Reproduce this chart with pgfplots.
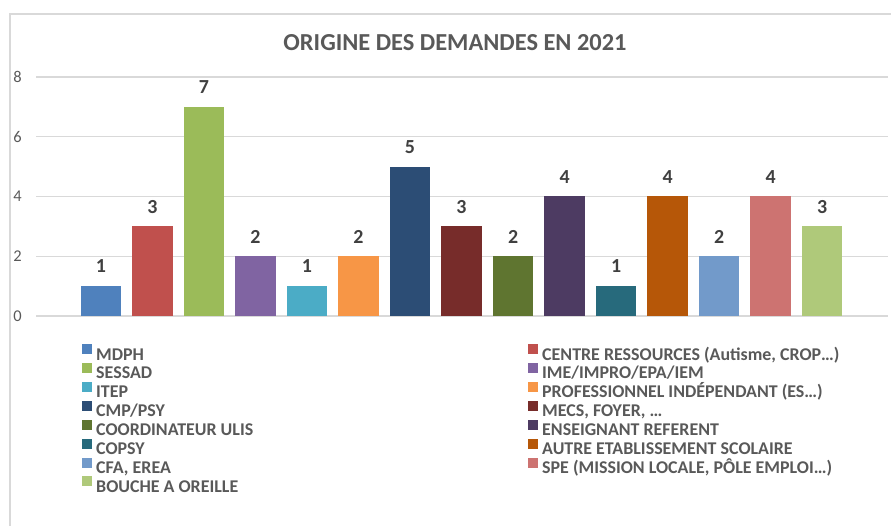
\documentclass[border=0pt]{standalone}
\usepackage{pgfplots}
\pgfplotsset{compat=1.18}
\usepackage{fontspec}
\setmainfont{Carlito}
\definecolor{c1}{HTML}{4F81BD}
\definecolor{c2}{HTML}{C0504D}
\definecolor{c3}{HTML}{9BBB59}
\definecolor{c4}{HTML}{8064A2}
\definecolor{c5}{HTML}{4BACC6}
\definecolor{c6}{HTML}{F79646}
\definecolor{c7}{HTML}{2C4D75}
\definecolor{c8}{HTML}{772C2A}
\definecolor{c9}{HTML}{5F7530}
\definecolor{c10}{HTML}{4D3B62}
\definecolor{c11}{HTML}{276A7C}
\definecolor{c12}{HTML}{B65708}
\definecolor{c13}{HTML}{729ACA}
\definecolor{c14}{HTML}{CD7371}
\definecolor{c15}{HTML}{AFC97A}
\definecolor{framec}{HTML}{D9D9D9}
\definecolor{gridc}{HTML}{D9D9D9}
\definecolor{txt}{HTML}{595959}
\definecolor{lab}{HTML}{404040}
\newcommand{\LL}[1]{\makebox[432bp][l]{#1}}
\begin{document}
\begin{tikzpicture}[x=1bp,y=1bp]
\useasboundingbox (0,0) rectangle (891,526);
\draw[color=framec, line width=1.2bp] (10,0) -- (10,512) -- (891,512);
\node[font=\fontsize{24.5}{28}\selectfont\bfseries, text=txt, anchor=base] at (455,475) {ORIGINE DES DEMANDES EN 2021};
\begin{axis}[
  at={(36bp,210bp)}, anchor=south west, scale only axis,
  width=852bp, height=239bp,
  xmin=-1.262, xmax=15.28, ymin=0, ymax=8,
  ytick={0,2,4,6,8}, xtick=\empty,
  ymajorgrids, grid style={color=gridc, line width=1.2bp},
  axis line style={draw=none}, major tick length=0pt,
  /pgf/number format/assume math mode=true,
  yticklabel style={font=\fontsize{16.5}{18}\selectfont, text=txt, inner sep=0pt, anchor=east, xshift=-14bp},
  ybar, bar width=40.5bp, bar shift=0pt,
  nodes near coords,
  every node near coord/.append style={font=\fontsize{20}{22}\selectfont\bfseries, text=lab, inner sep=0pt, yshift=13bp},
  legend columns=2,
  legend cell align=left,
  legend image code/.code={\fill[#1] (0bp,2.5bp) rectangle (10bp,12.5bp); \path (14bp,0bp);},
  legend style={draw=none, fill=none, inner sep=0pt, row sep=-3.2bp,
    at={(0.05399,-0.11715)}, anchor=north west,
    font=\fontsize{18}{20}\selectfont\bfseries, text=txt,
    nodes={inner sep=0pt, text height=13bp, text depth=6.2bp}},
]
\addplot[fill=c1, draw=none] coordinates {(0,1)};
\addlegendentry{\LL{MDPH}}
\addplot[fill=c2, draw=none] coordinates {(1,3)};
\addlegendentry{CENTRE RESSOURCES (Autisme, CROP…)}
\addplot[fill=c3, draw=none] coordinates {(2,7)};
\addlegendentry{\LL{SESSAD}}
\addplot[fill=c4, draw=none] coordinates {(3,2)};
\addlegendentry{IME/IMPRO/EPA/IEM}
\addplot[fill=c5, draw=none] coordinates {(4,1)};
\addlegendentry{\LL{ITEP}}
\addplot[fill=c6, draw=none] coordinates {(5,2)};
\addlegendentry{PROFESSIONNEL INDÉPENDANT (ES…)}
\addplot[fill=c7, draw=none] coordinates {(6,5)};
\addlegendentry{\LL{CMP/PSY}}
\addplot[fill=c8, draw=none] coordinates {(7,3)};
\addlegendentry{MECS, FOYER, …}
\addplot[fill=c9, draw=none] coordinates {(8,2)};
\addlegendentry{\LL{COORDINATEUR ULIS}}
\addplot[fill=c10, draw=none] coordinates {(9,4)};
\addlegendentry{ENSEIGNANT REFERENT}
\addplot[fill=c11, draw=none] coordinates {(10,1)};
\addlegendentry{\LL{COPSY}}
\addplot[fill=c12, draw=none] coordinates {(11,4)};
\addlegendentry{AUTRE ETABLISSEMENT SCOLAIRE}
\addplot[fill=c13, draw=none] coordinates {(12,2)};
\addlegendentry{\LL{CFA, EREA}}
\addplot[fill=c14, draw=none] coordinates {(13,4)};
\addlegendentry{SPE (MISSION LOCALE, PÔLE EMPLOI…)}
\addplot[fill=c15, draw=none] coordinates {(14,3)};
\addlegendentry{\LL{BOUCHE A OREILLE}}
\end{axis}
\end{tikzpicture}
\end{document}
